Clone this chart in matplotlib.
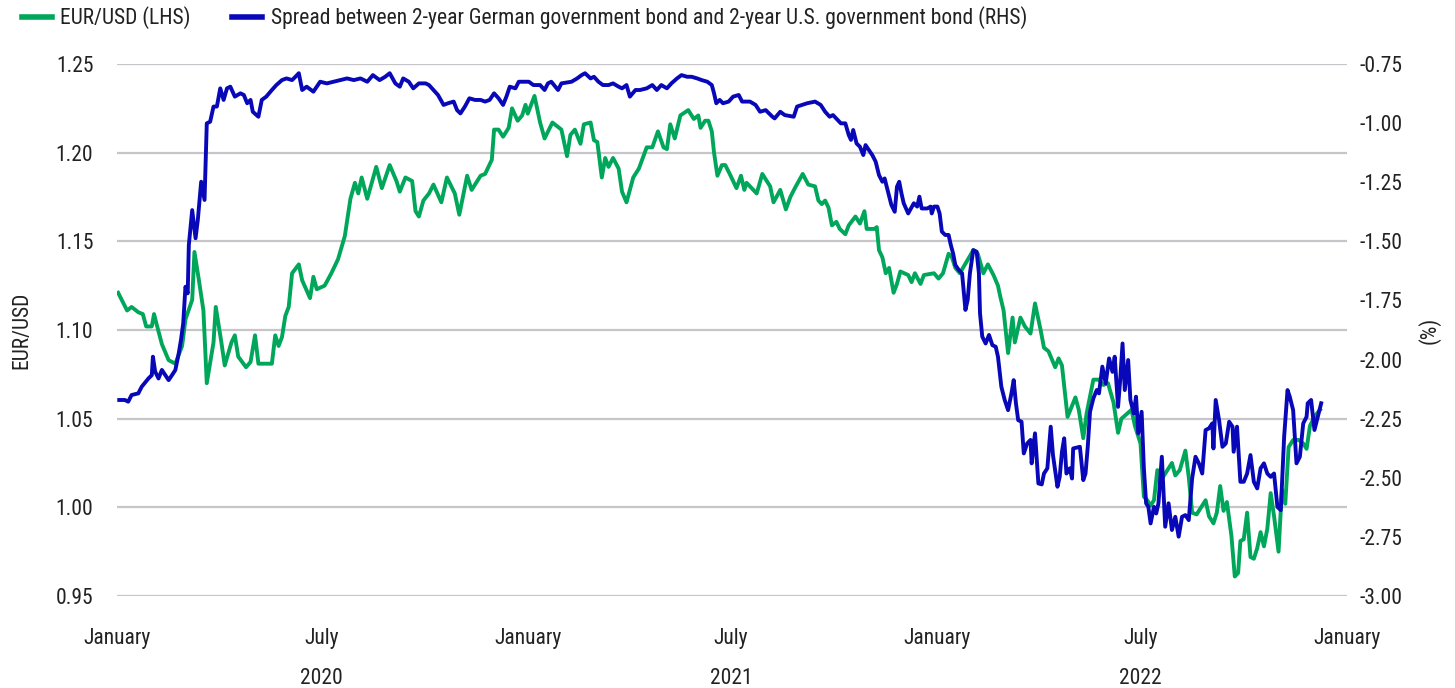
import matplotlib.pyplot as plt
import matplotlib.transforms as mtransforms
from matplotlib import font_manager
import pandas as pd

# narrow face if the box has one, else plain Liberation Sans a bit smaller
installed = {f.name for f in font_manager.fontManager.ttflist}
fsize = 12.5
family = 'Liberation Sans'
for name in ['Liberation Sans Narrow', 'Roboto Condensed', 'Open Sans Condensed']:
    if name in installed:
        family, fsize = name, 15.5
        break
plt.rcParams['font.family'] = [family, 'DejaVu Sans']

start = pd.Timestamp('2020-01-01')

# EUR/USD, days since 2020-01-01
eur_days = [1, 9, 13, 19, 23, 26, 31, 33, 35, 40, 46, 52, 58, 61, 67, 69, 73, 77, 80, 86,
            88, 93, 96, 102, 105, 108, 115, 119, 123, 126, 135, 138, 141, 144, 147, 150, 153, 156, 162, 165,
            172, 175, 178, 185, 191, 197, 203, 208, 212, 215, 218, 223, 231, 236, 243, 249, 252, 257, 263, 266,
            269, 273, 278, 282, 289, 294, 301, 305, 312, 316, 324, 328, 331, 334, 336, 340, 344, 349, 352, 357,
            361, 364, 366, 372, 377, 381, 388, 396, 401, 404, 408, 413, 416, 422, 425, 428, 432, 435, 438, 442,
            447, 450, 454, 460, 465, 472, 477, 482, 487, 490, 493, 497, 502, 509, 514, 518, 520, 524, 527, 530,
            532, 535, 539, 542, 546, 552, 556, 559, 561, 570, 575, 582, 585, 591, 596, 600, 604, 611, 616, 622,
            625, 628, 631, 634, 637, 641, 644, 649, 652, 658, 662, 666, 668, 675, 677, 679, 682, 685, 688, 692,
            695, 698, 705, 708, 711, 716, 719, 728, 732, 736, 741, 744, 747, 751, 763, 767, 772, 776, 781, 785,
            787, 790, 794, 798, 800, 805, 809, 814, 818, 823, 826, 830, 836, 839, 842, 847, 854, 857, 861, 864,
            870, 875, 879, 883, 888, 892, 895, 904, 907, 912, 915, 918, 921, 924, 927, 930, 933, 936, 940, 943,
            947, 952, 955, 958, 962, 970, 973, 977, 980, 983, 986, 989, 993, 996, 999, 1001, 1004, 1007, 1010, 1013,
            1016, 1019, 1022, 1025, 1028, 1031, 1035, 1038, 1041, 1044, 1048, 1053, 1057, 1060, 1063, 1068, 1072]
eur_usd = [1.121, 1.111, 1.113, 1.110, 1.109, 1.102, 1.102, 1.109, 1.104, 1.092, 1.083, 1.081, 1.091, 1.106, 1.117, 1.144, 1.128, 1.111, 1.070, 1.093,
           1.113, 1.093, 1.080, 1.093, 1.097, 1.085, 1.079, 1.082, 1.097, 1.081, 1.081, 1.081, 1.097, 1.091, 1.096, 1.108, 1.113, 1.132, 1.137, 1.128,
           1.118, 1.130, 1.123, 1.125, 1.132, 1.140, 1.153, 1.174, 1.183, 1.177, 1.186, 1.174, 1.192, 1.180, 1.193, 1.184, 1.178, 1.186, 1.184, 1.167,
           1.164, 1.173, 1.177, 1.182, 1.172, 1.186, 1.177, 1.165, 1.187, 1.179, 1.187, 1.188, 1.192, 1.196, 1.213, 1.213, 1.209, 1.214, 1.225, 1.218,
           1.221, 1.227, 1.222, 1.232, 1.217, 1.208, 1.217, 1.213, 1.198, 1.210, 1.213, 1.205, 1.216, 1.217, 1.207, 1.206, 1.186, 1.197, 1.192, 1.197,
           1.191, 1.178, 1.172, 1.186, 1.191, 1.203, 1.203, 1.212, 1.203, 1.202, 1.216, 1.208, 1.221, 1.224, 1.219, 1.221, 1.214, 1.218, 1.218, 1.212,
           1.200, 1.187, 1.193, 1.193, 1.188, 1.180, 1.187, 1.179, 1.183, 1.177, 1.188, 1.181, 1.172, 1.179, 1.168, 1.175, 1.180, 1.188, 1.182, 1.181,
           1.173, 1.171, 1.173, 1.169, 1.159, 1.161, 1.157, 1.154, 1.159, 1.164, 1.160, 1.167, 1.157, 1.157, 1.158, 1.145, 1.141, 1.132, 1.135, 1.121,
           1.126, 1.133, 1.131, 1.127, 1.132, 1.126, 1.131, 1.132, 1.129, 1.132, 1.143, 1.141, 1.135, 1.132, 1.145, 1.143, 1.132, 1.137, 1.131, 1.125,
           1.119, 1.111, 1.087, 1.107, 1.093, 1.107, 1.102, 1.098, 1.115, 1.100, 1.090, 1.088, 1.079, 1.084, 1.080, 1.051, 1.062, 1.055, 1.039, 1.053,
           1.072, 1.072, 1.069, 1.070, 1.059, 1.042, 1.050, 1.055, 1.046, 1.036, 1.006, 1.004, 1.001, 1.004, 1.021, 1.015, 1.018, 1.021, 1.025, 1.018,
           1.021, 1.032, 1.017, 0.997, 0.996, 1.004, 0.995, 0.991, 0.997, 1.012, 0.998, 1.003, 0.984, 0.961, 0.963, 0.981, 0.982, 0.997, 0.972, 0.971,
           0.977, 0.986, 0.978, 0.988, 1.008, 0.995, 0.975, 1.010, 1.002, 1.034, 1.038, 1.038, 1.036, 1.033, 1.046, 1.052, 1.055]

# 2y Bund minus 2y UST spread (%), days since 2020-01-01
spread_days = [2, 7, 10, 13, 19, 22, 28, 31, 32, 34, 37, 40, 46, 49, 52, 55, 57, 59, 61, 63,
               64, 67, 70, 72, 75, 78, 80, 83, 86, 89, 92, 95, 98, 101, 105, 110, 113, 116, 119, 121,
               126, 129, 133, 138, 142, 147, 151, 156, 159, 162, 165, 169, 175, 181, 187, 193, 199, 205, 211, 217,
               223, 228, 234, 239, 243, 248, 252, 255, 260, 264, 269, 275, 278, 282, 286, 291, 295, 300, 303, 306,
               310, 314, 319, 324, 328, 332, 336, 340, 344, 347, 350, 355, 358, 367, 371, 377, 381, 384, 387, 393,
               396, 405, 410, 414, 417, 422, 425, 429, 433, 438, 442, 447, 450, 454, 457, 462, 466, 472, 477, 481,
               485, 490, 494, 499, 503, 508, 512, 517, 521, 526, 530, 532, 534, 537, 540, 545, 549, 554, 557, 564,
               569, 573, 578, 584, 586, 591, 595, 603, 606, 615, 622, 627, 631, 635, 638, 645, 649, 652, 654, 656,
               659, 662, 665, 667, 673, 676, 679, 682, 684, 687, 690, 693, 695, 697, 699, 701, 705, 710, 713, 715,
               717, 722, 725, 726, 728, 731, 733, 735, 738, 741, 743, 745, 747, 750, 753, 756, 758, 760, 763, 766,
               768, 769, 771, 774, 777, 780, 783, 785, 788, 791, 794, 797, 799, 801, 803, 806, 808, 811, 814, 815,
               818, 821, 824, 826, 829, 832, 834, 838, 840, 842, 844, 846, 849, 851, 852, 858, 861, 863, 865, 867,
               870, 873, 875, 878, 881, 884, 887, 889, 892, 894, 896, 898, 901, 903, 906, 908, 910, 913, 915, 917,
               919, 921, 924, 926, 928, 931, 934, 937, 940, 943, 946, 949, 952, 955, 958, 961, 964, 967, 970, 973,
               976, 977, 979, 982, 985, 988, 991, 994, 995, 998, 1001, 1004, 1007, 1010, 1013, 1016, 1019, 1022, 1025, 1028,
               1031, 1034, 1037, 1040, 1043, 1045, 1048, 1051, 1054, 1057, 1060, 1061, 1064, 1067, 1070, 1073]
spread = [-2.171, -2.171, -2.178, -2.150, -2.143, -2.115, -2.080, -2.066, -1.988, -2.051, -2.080, -2.044, -2.087, -2.066, -2.044, -1.974, -1.917, -1.847, -1.692, -1.720,
          -1.516, -1.368, -1.487, -1.410, -1.248, -1.325, -1.001, -0.994, -0.930, -0.930, -0.853, -0.902, -0.853, -0.846, -0.888, -0.874, -0.881, -0.916, -0.902, -0.952,
          -0.973, -0.902, -0.888, -0.860, -0.839, -0.818, -0.811, -0.818, -0.804, -0.789, -0.860, -0.846, -0.867, -0.825, -0.832, -0.825, -0.818, -0.811, -0.818, -0.811,
          -0.825, -0.797, -0.818, -0.804, -0.789, -0.832, -0.846, -0.811, -0.825, -0.853, -0.832, -0.832, -0.839, -0.860, -0.881, -0.923, -0.916, -0.909, -0.945, -0.959,
          -0.930, -0.895, -0.902, -0.902, -0.909, -0.902, -0.874, -0.895, -0.923, -0.888, -0.846, -0.853, -0.825, -0.825, -0.839, -0.839, -0.860, -0.832, -0.825, -0.860,
          -0.832, -0.825, -0.811, -0.797, -0.789, -0.811, -0.804, -0.825, -0.839, -0.839, -0.832, -0.846, -0.853, -0.839, -0.888, -0.860, -0.860, -0.853, -0.839, -0.860,
          -0.839, -0.853, -0.832, -0.811, -0.797, -0.804, -0.804, -0.811, -0.818, -0.825, -0.839, -0.874, -0.916, -0.902, -0.916, -0.909, -0.888, -0.881, -0.909, -0.909,
          -0.923, -0.952, -0.945, -0.973, -0.980, -0.952, -0.966, -0.973, -0.930, -0.916, -0.909, -0.923, -0.952, -0.973, -0.966, -1.001, -1.001, -1.050, -1.071, -1.029,
          -1.086, -1.100, -1.135, -1.093, -1.135, -1.163, -1.220, -1.248, -1.234, -1.290, -1.346, -1.375, -1.269, -1.248, -1.297, -1.339, -1.382, -1.339, -1.353, -1.311,
          -1.361, -1.361, -1.353, -1.382, -1.353, -1.353, -1.382, -1.459, -1.473, -1.473, -1.516, -1.551, -1.600, -1.621, -1.635, -1.790, -1.748, -1.635, -1.537, -1.544,
          -1.635, -1.805, -1.903, -1.932, -1.896, -1.939, -1.946, -1.988, -2.115, -2.171, -2.214, -2.143, -2.087, -2.185, -2.256, -2.263, -2.397, -2.355, -2.340, -2.439,
          -2.312, -2.524, -2.528, -2.482, -2.460, -2.284, -2.404, -2.538, -2.496, -2.390, -2.333, -2.482, -2.460, -2.503, -2.376, -2.369, -2.510, -2.482, -2.369, -2.221,
          -2.164, -2.129, -2.143, -2.030, -2.101, -1.995, -2.052, -1.988, -2.200, -2.080, -1.932, -2.129, -2.002, -2.171, -2.228, -2.157, -2.312, -2.221, -2.460, -2.608,
          -2.623, -2.693, -2.623, -2.651, -2.608, -2.411, -2.707, -2.608, -2.721, -2.665, -2.749, -2.665, -2.658, -2.679, -2.503, -2.411, -2.439, -2.482, -2.298, -2.291,
          -2.270, -2.376, -2.171, -2.256, -2.369, -2.355, -2.263, -2.284, -2.390, -2.284, -2.517, -2.517, -2.482, -2.404, -2.517, -2.545, -2.460, -2.439, -2.482, -2.496,
          -2.482, -2.623, -2.637, -2.326, -2.129, -2.157, -2.214, -2.439, -2.411, -2.270, -2.242, -2.185, -2.171, -2.298, -2.242, -2.185]

eur_dates = start + pd.to_timedelta(eur_days, unit='D')
spread_dates = start + pd.to_timedelta(spread_days, unit='D')

green = '#00a65a'
blue = '#0808b8'
grid_c = '#c6c6ca'
txt = '#222222'

fig = plt.figure(figsize=(14.55, 6.88), dpi=100)
ax = fig.add_axes([117 / 1455, 1 - 596 / 688, 1230 / 1455, 532 / 688])
ax2 = ax.twinx()

l1, = ax.plot(eur_dates, eur_usd, color=green, lw=2.8, label='EUR/USD (LHS)', solid_joinstyle='round')
l2, = ax2.plot(spread_dates, spread, color=blue, lw=2.8, solid_joinstyle='round',
               label='Spread between 2-year German government bond and 2-year U.S. government bond (RHS)')

ax.set_ylim(0.95, 1.25)
ax.set_yticks([0.95, 1.00, 1.05, 1.10, 1.15, 1.20, 1.25])
ax.set_yticklabels(['%.2f' % v for v in ax.get_yticks()])
ax2.set_ylim(-3.0, -0.75)
ax2.set_yticks([-3.0, -2.75, -2.5, -2.25, -2.0, -1.75, -1.5, -1.25, -1.0, -0.75])
ax2.set_yticklabels(['%.2f' % v for v in ax2.get_yticks()])

ax.set_xlim(pd.Timestamp('2020-01-01'), pd.Timestamp('2023-01-01'))
ticks = pd.date_range('2020-01-01', '2023-01-01', freq='6MS')
ax.set_xticks(ticks)
ax.set_xticklabels(['January' if t.month == 1 else 'July' for t in ticks])

ax.grid(axis='y', color=grid_c, lw=1.6)
ax.set_axisbelow(True)
for a in (ax, ax2):
    for s in a.spines.values():
        s.set_visible(False)
    a.tick_params(length=0, labelsize=fsize, colors=txt)
ax.tick_params(axis='y', pad=17)
ax.tick_params(axis='x', pad=23)
ax2.tick_params(axis='y', pad=9)

ax.set_ylabel('EUR/USD', fontsize=fsize, color=txt)
ax.yaxis.set_label_coords(-85 / 1230, 0.5)
ax2.set_ylabel('(%)', fontsize=fsize, color=txt)
ax2.yaxis.set_label_coords(1 + 71 / 1230, 0.5)

trans = mtransforms.blended_transform_factory(ax.transData, fig.transFigure)
for yr in [2020, 2021, 2022]:
    ax.text(pd.Timestamp(f'{yr}-07-01'), 1 - 678 / 688, str(yr), transform=trans,
            ha='center', va='center', fontsize=fsize, color=txt)

fig.legend(handles=[l1, l2], loc='center left', bbox_to_anchor=(0.009, 1 - 18 / 688), ncol=2,
           frameon=False, fontsize=fsize, handlelength=1.4, handletextpad=0.4, columnspacing=1.9,
           labelcolor=txt, borderaxespad=0)
for h in fig.legends[0].legend_handles:
    h.set_linewidth(4)

fig.savefig('out.png', dpi=100)
